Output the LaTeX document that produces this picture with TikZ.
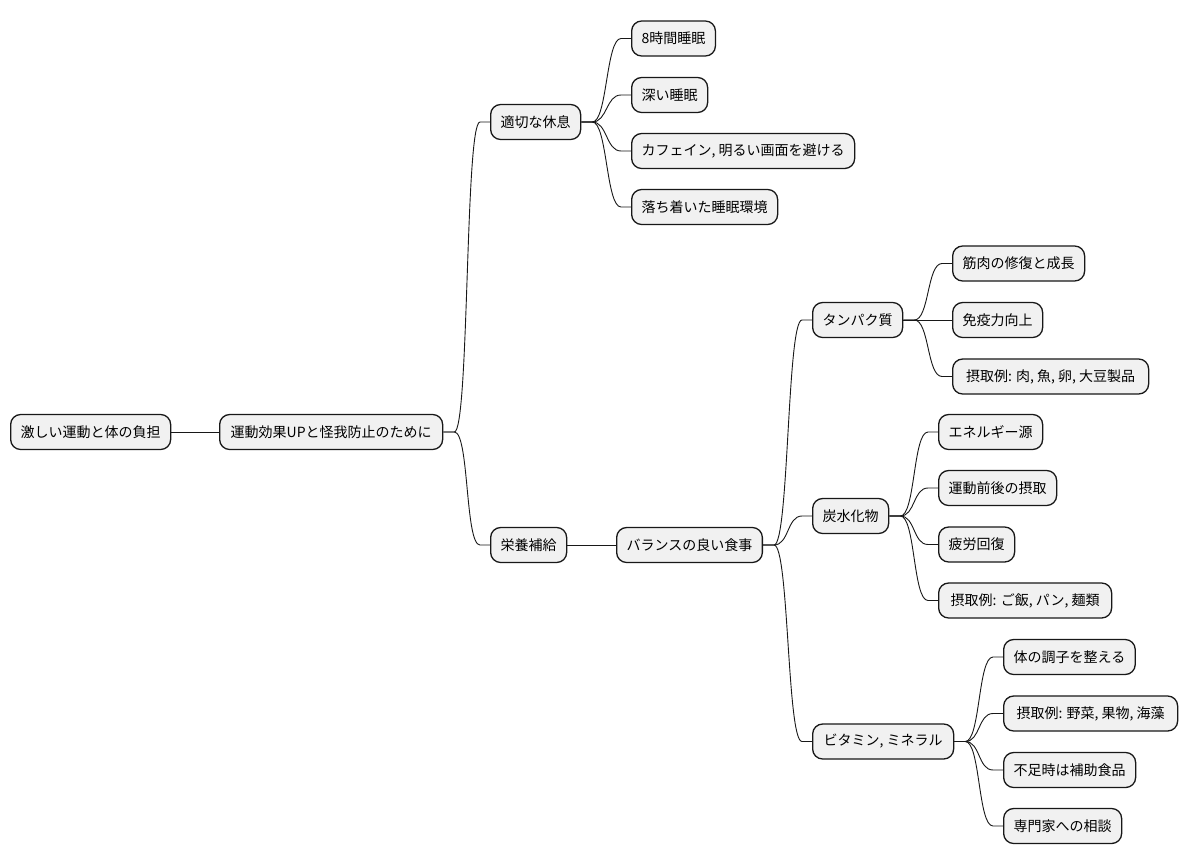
\documentclass[tikz,border=0pt]{standalone}
\usepackage{fontspec}
\setmainfont{Noto Sans CJK JP}
\usetikzlibrary{calc}
\definecolor{boxfill}{HTML}{F1F1F1}
\definecolor{boxline}{HTML}{181818}
\tikzset{
  mmnode/.style={draw=boxline, fill=boxfill, line width=1.3pt, rounded corners=10pt,
    minimum height=35pt, inner xsep=10pt, inner ysep=0pt, anchor=west,
    font=\fontsize{14pt}{16pt}\selectfont, text=black},
  conn/.style={draw=boxline, line width=0.9pt}
}
\newcommand\mmconn[2]{\draw[conn] (#1.east) -- ++(11,0) .. controls +(15,0) and +(-15,0) .. ($(#2.west)+(-10,0)$) -- (#2.west);}
\begin{document}
\begin{tikzpicture}[x=1pt,y=-1pt]
\useasboundingbox (0,0) rectangle (1187,865);
\fill[white] (0,0) rectangle (1187,865);
\node[mmnode] (r0) at (10,432) {激しい運動と体の負担};
\node[mmnode, minimum width=223pt] (r1) at (219,432) {運動効果UPと怪我防止のために};
\node[mmnode] (a1) at (490,122) {適切な休息};
\node[mmnode] (a11) at (631,38.5) {8時間睡眠};
\node[mmnode] (a12) at (631,95) {深い睡眠};
\node[mmnode] (a13) at (631,151) {カフェイン, 明るい画面を避ける};
\node[mmnode] (a14) at (631,207) {落ち着いた睡眠環境};
\node[mmnode] (b1) at (490,545) {栄養補給};
\node[mmnode] (b11) at (616,545) {バランスの良い食事};
\node[mmnode] (c1) at (812,320) {タンパク質};
\node[mmnode] (c11) at (952,263.5) {筋肉の修復と成長};
\node[mmnode] (c12) at (952,320) {免疫力向上};
\node[mmnode, minimum width=196pt] (c13) at (952,376.5) {摂取例: 肉, 魚, 卵, 大豆製品};
\node[mmnode] (c2) at (812,516) {炭水化物};
\node[mmnode] (c21) at (938,432) {エネルギー源};
\node[mmnode] (c22) at (938,488) {運動前後の摂取};
\node[mmnode] (c23) at (938,544.5) {疲労回復};
\node[mmnode, minimum width=173pt] (c24) at (938,600.5) {摂取例: ご飯, パン, 麺類};
\node[mmnode, minimum width=141pt] (c3) at (812,741.5) {ビタミン, ミネラル};
\node[mmnode] (c31) at (1003,657) {体の調子を整える};
\node[mmnode, minimum width=174pt] (c32) at (1003,713.5) {摂取例: 野菜, 果物, 海藻};
\node[mmnode] (c33) at (1003,770) {不足時は補助食品};
\node[mmnode] (c34) at (1003,826) {専門家への相談};
\draw[conn] (r0.east) -- (r1.west);
\draw[conn] (b1.east) -- (b11.west);
\draw[conn] (c1.east) -- (c12.west);
\mmconn{r1}{a1}
\mmconn{r1}{b1}
\mmconn{a1}{a11}
\mmconn{a1}{a12}
\mmconn{a1}{a13}
\mmconn{a1}{a14}
\mmconn{b11}{c1}
\mmconn{b11}{c2}
\mmconn{b11}{c3}
\mmconn{c1}{c11}
\mmconn{c1}{c13}
\mmconn{c2}{c21}
\mmconn{c2}{c22}
\mmconn{c2}{c23}
\mmconn{c2}{c24}
\mmconn{c3}{c31}
\mmconn{c3}{c32}
\mmconn{c3}{c33}
\mmconn{c3}{c34}
\end{tikzpicture}
\end{document}
